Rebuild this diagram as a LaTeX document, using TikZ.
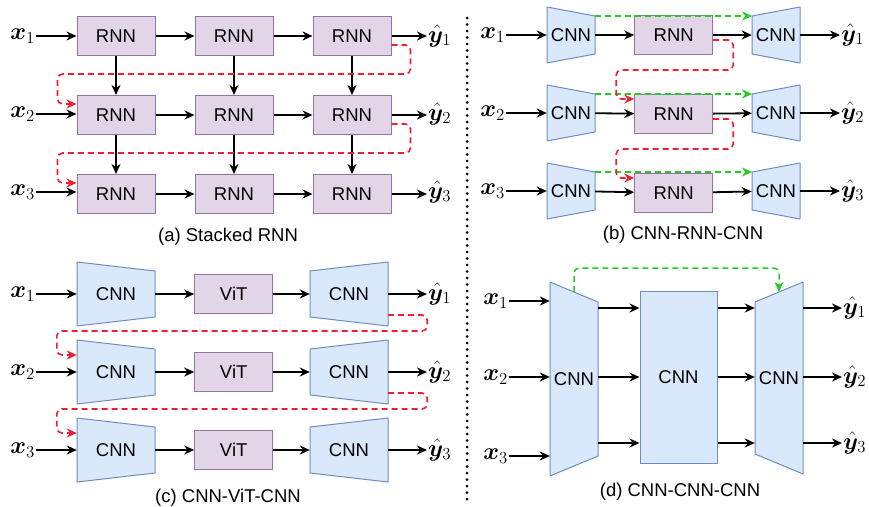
\RequirePackage{fix-cm}
\documentclass[tikz,border=0pt]{standalone}
\usepackage{amsmath}
\usepackage{bm}
\usepackage{fontspec}
\setmainfont{Liberation Sans}
\usetikzlibrary{shapes.geometric, arrows, arrows.meta, positioning}

\definecolor{rnnfill}{HTML}{E1D5E7}
\definecolor{rnnline}{HTML}{9673A6}
\definecolor{cnnfill}{HTML}{DAE8FC}
\definecolor{cnnline}{HTML}{6C8EBF}
\definecolor{fbred}{HTML}{F01E32}
\definecolor{skipgreen}{HTML}{22CC22}

\newcommand{\blockfont}{\fontsize{18.5}{22}\selectfont}
\newcommand{\varfont}{\fontsize{24}{28}\selectfont}

\tikzstyle{rnnbox} = [rectangle, draw=rnnline, fill=rnnfill, line width=1pt, minimum width=78pt, minimum height=39pt, inner sep=0pt, font=\blockfont]
\tikzstyle{bigbox} = [rectangle, draw=cnnline, fill=cnnfill, line width=1pt, minimum width=77pt, minimum height=172pt, inner sep=0pt, font=\blockfont]
\tikzstyle{cnnshape} = [draw=cnnline, fill=cnnfill, line width=1pt, line join=round]
\tikzstyle{cnntext} = [inner sep=0pt, minimum height=20pt, font=\blockfont]
\tikzstyle{arrow} = [line width=1.8pt,->,>={Stealth[length=10pt,width=9pt]}]
\tikzstyle{feedback} = [arrow, draw=fbred, line width=1.6pt, dash pattern=on 6pt off 4pt, rounded corners=5pt]
\tikzstyle{skipline} = [arrow, draw=skipgreen, line width=1.5pt, dash pattern=on 6pt off 4pt, rounded corners=5pt]
\tikzstyle{invar} = [inner sep=1pt, anchor=east, font=\varfont]
\tikzstyle{outvar} = [inner sep=1pt, anchor=west, font=\varfont]
\tikzstyle{caption} = [font=\blockfont]

% trapezoid CNN block: name, x, y, half width, left half height, right half height
\newcommand{\cnnblock}[6]{%
  \filldraw[cnnshape] (#2-#4,#3-#5) coordinate (#1-tl) -- (#2+#4,#3-#6) coordinate (#1-tr)
    -- (#2+#4,#3+#6) -- (#2-#4,#3+#5) -- cycle;
  \coordinate (#1-top) at (#2,#3-#5/2-#6/2);
  \node[cnntext, minimum width=2*#4] (#1) at (#2,#3) {CNN};
}

\begin{document}
\begin{tikzpicture}[x=1pt, y=-1pt, node distance=39pt]
    \useasboundingbox (0,0) rectangle (869,506);

    % (a) stacked RNN
    \node[rnnbox] (a11) at (116,36) {RNN};
    \node[rnnbox, right=of a11] (a12) {RNN};
    \node[rnnbox, right=of a12] (a13) {RNN};
    \node[rnnbox, below=of a11] (a21) {RNN};
    \node[rnnbox, right=of a21] (a22) {RNN};
    \node[rnnbox, right=of a22] (a23) {RNN};
    \node[rnnbox, below=of a21] (a31) {RNN};
    \node[rnnbox, right=of a31] (a32) {RNN};
    \node[rnnbox, right=of a32] (a33) {RNN};
    \node[invar] (xa1) at (36,36) {$\bm{x}_1$};
    \node[invar] (xa2) at (36,114) {$\bm{x}_2$};
    \node[invar] (xa3) at (36,192) {$\bm{x}_3$};
    \node[outvar] (ya1) at (427,36) {$\hat{\bm{y}}_1$};
    \node[outvar] (ya2) at (427,114) {$\hat{\bm{y}}_2$};
    \node[outvar] (ya3) at (427,192) {$\hat{\bm{y}}_3$};
    \draw[arrow] (xa1) -- (xa1 -| a11.west);
    \draw[arrow] (xa2) -- (xa2 -| a21.west);
    \draw[arrow] (xa3) -- (xa3 -| a31.west);
    \draw[arrow] (a11) -- (a12);
    \draw[arrow] (a12) -- (a13);
    \draw[arrow] (a21) -- (a22);
    \draw[arrow] (a22) -- (a23);
    \draw[arrow] (a31) -- (a32);
    \draw[arrow] (a32) -- (a33);
    \draw[arrow] (a13) -- (a13 -| ya1.west);
    \draw[arrow] (a23) -- (a23 -| ya2.west);
    \draw[arrow] (a33) -- (a33 -| ya3.west);
    \draw[arrow] (a11) -- (a21);
    \draw[arrow] (a12) -- (a22);
    \draw[arrow] (a13) -- (a23);
    \draw[arrow] (a21) -- (a31);
    \draw[arrow] (a22) -- (a32);
    \draw[arrow] (a23) -- (a33);
    \draw[feedback] ([yshift=-9pt]a13.east) -| ([xshift=19pt,yshift=-18pt]a13.south east) -| ([xshift=-19pt,yshift=11pt]a21.west) -- ([yshift=11pt]a21.west);
    \draw[feedback] ([yshift=-9pt]a23.east) -| ([xshift=19pt,yshift=-18pt]a23.south east) -| ([xshift=-19pt,yshift=11pt]a31.west) -- ([yshift=11pt]a31.west);
    \node[caption] (capa) at (228,237) {(a) Stacked RNN};

    % divider
    \draw[line width=3pt, line cap=round, dash pattern=on 0pt off 6.5pt] (467,18) -- (467,505);

    % (b) CNN-RNN-CNN
    \cnnblock{eb1}{571}{35}{24}{28}{19}
    \cnnblock{eb2}{571}{113}{24}{28}{19}
    \cnnblock{eb3}{571}{191}{24}{28}{19}
    \node[rnnbox, right=of eb1] (rb1) {RNN};
    \node[rnnbox, below=of rb1] (rb2) {RNN};
    \node[rnnbox, below=of rb2] (rb3) {RNN};
    \cnnblock{db1}{776}{35}{24}{19}{28}
    \cnnblock{db2}{776}{113}{24}{19}{28}
    \cnnblock{db3}{776}{191}{24}{19}{28}
    \node[invar] (xb1) at (506,35) {$\bm{x}_1$};
    \node[invar] (xb2) at (506,113) {$\bm{x}_2$};
    \node[invar] (xb3) at (506,191) {$\bm{x}_3$};
    \node[outvar] (yb1) at (840,35) {$\hat{\bm{y}}_1$};
    \node[outvar] (yb2) at (840,113) {$\hat{\bm{y}}_2$};
    \node[outvar] (yb3) at (840,191) {$\hat{\bm{y}}_3$};
    \draw[arrow] (xb1) -- (xb1 -| eb1.west);
    \draw[arrow] (xb2) -- (xb2 -| eb2.west);
    \draw[arrow] (xb3) -- (xb3 -| eb3.west);
    \draw[arrow] (eb1) -- (rb1);
    \draw[arrow] (eb2) -- (rb2);
    \draw[arrow] (eb3) -- (rb3);
    \draw[arrow] (rb1) -- (db1);
    \draw[arrow] (rb2) -- (db2);
    \draw[arrow] (rb3) -- (db3);
    \draw[arrow] (db1) -- (db1 -| yb1.west);
    \draw[arrow] (db2) -- (db2 -| yb2.west);
    \draw[arrow] (db3) -- (db3 -| yb3.west);
    \draw[skipline] (eb1-tr) -- (db1-tl);
    \draw[skipline] (eb2-tr) -- (db2-tl);
    \draw[skipline] (eb3-tr) -- (db3-tl);
    \draw[feedback] ([yshift=-5pt]rb1.east) -| ([xshift=20pt,yshift=-15pt]rb1.south east) -| ([xshift=-18pt,yshift=15pt]rb2.west) -- ([yshift=15pt]rb2.west);
    \draw[feedback] ([yshift=-5pt]rb2.east) -| ([xshift=20pt,yshift=-15pt]rb2.south east) -| ([xshift=-18pt,yshift=15pt]rb3.west) -- ([yshift=15pt]rb3.west);
    \node[caption] (capb) at (683,235) {(b) CNN-RNN-CNN};

    % (c) CNN-ViT-CNN
    \cnnblock{ec1}{116}{294}{39}{32}{23}
    \cnnblock{ec2}{116}{372}{39}{32}{23}
    \cnnblock{ec3}{116}{450}{39}{32}{23}
    \node[rnnbox, right=of ec1] (vc1) {ViT};
    \node[rnnbox, right=of ec2] (vc2) {ViT};
    \node[rnnbox, right=of ec3] (vc3) {ViT};
    \cnnblock{dc1}{349}{294}{39}{23}{32}
    \cnnblock{dc2}{349}{372}{39}{23}{32}
    \cnnblock{dc3}{349}{450}{39}{23}{32}
    \node[invar] (xc1) at (36,294) {$\bm{x}_1$};
    \node[invar] (xc2) at (36,372) {$\bm{x}_2$};
    \node[invar] (xc3) at (36,450) {$\bm{x}_3$};
    \node[outvar] (yc1) at (427,294) {$\hat{\bm{y}}_1$};
    \node[outvar] (yc2) at (427,372) {$\hat{\bm{y}}_2$};
    \node[outvar] (yc3) at (427,450) {$\hat{\bm{y}}_3$};
    \draw[arrow] (xc1) -- (xc1 -| ec1.west);
    \draw[arrow] (xc2) -- (xc2 -| ec2.west);
    \draw[arrow] (xc3) -- (xc3 -| ec3.west);
    \draw[arrow] (ec1) -- (vc1);
    \draw[arrow] (ec2) -- (vc2);
    \draw[arrow] (ec3) -- (vc3);
    \draw[arrow] (vc1) -- (dc1);
    \draw[arrow] (vc2) -- (dc2);
    \draw[arrow] (vc3) -- (dc3);
    \draw[arrow] (dc1) -- (dc1 -| yc1.west);
    \draw[arrow] (dc2) -- (dc2 -| yc2.west);
    \draw[arrow] (dc3) -- (dc3 -| yc3.west);
    \draw[feedback] ([yshift=-21pt]dc1.east) -| ([xshift=39pt,yshift=-37pt]dc1.east) -| ([xshift=-20pt,yshift=17pt]ec2.west) -- ([yshift=17pt]ec2.west);
    \draw[feedback] ([yshift=-21pt]dc2.east) -| ([xshift=39pt,yshift=-37pt]dc2.east) -| ([xshift=-20pt,yshift=17pt]ec3.west) -- ([yshift=17pt]ec3.west);
    \node[caption] (capc) at (228,498) {(c) CNN-ViT-CNN};

    % (d) CNN-CNN-CNN
    \cnnblock{ed}{574}{379}{24}{97}{77}
    \node[bigbox] (md) at (678.5,377) {CNN};
    \cnnblock{dd}{779}{378}{24}{76}{96}
    \node[invar] (xd1) at (509,301) {$\bm{x}_1$};
    \node[invar] (xd2) at (509,377) {$\bm{x}_2$};
    \node[invar] (xd3) at (509,456) {$\bm{x}_3$};
    \node[outvar] (yd1) at (842,308) {$\hat{\bm{y}}_1$};
    \node[outvar] (yd2) at (842,377) {$\hat{\bm{y}}_2$};
    \node[outvar] (yd3) at (842,443) {$\hat{\bm{y}}_3$};
    \draw[arrow] (xd1) -- (xd1 -| ed.west);
    \draw[arrow] (xd2) -- (xd2 -| ed.west);
    \draw[arrow] (xd3) -- (xd3 -| ed.west);
    \draw[arrow] (ed.east |- yd1) -- (md.west |- yd1);
    \draw[arrow] (ed.east |- yd2) -- (md.west |- yd2);
    \draw[arrow] (ed.east |- yd3) -- (md.west |- yd3);
    \draw[arrow] (md.east |- yd1) -- (dd.west |- yd1);
    \draw[arrow] (md.east |- yd2) -- (dd.west |- yd2);
    \draw[arrow] (md.east |- yd3) -- (dd.west |- yd3);
    \draw[arrow] (dd.east |- yd1) -- (yd1);
    \draw[arrow] (dd.east |- yd2) -- (yd2);
    \draw[arrow] (dd.east |- yd3) -- (yd3);
    \draw[skipline] (ed-top) -- ++(0,-24) -| (dd-top);
    \node[caption] (capd) at (680,492) {(d) CNN-CNN-CNN};
\end{tikzpicture}
\end{document}
